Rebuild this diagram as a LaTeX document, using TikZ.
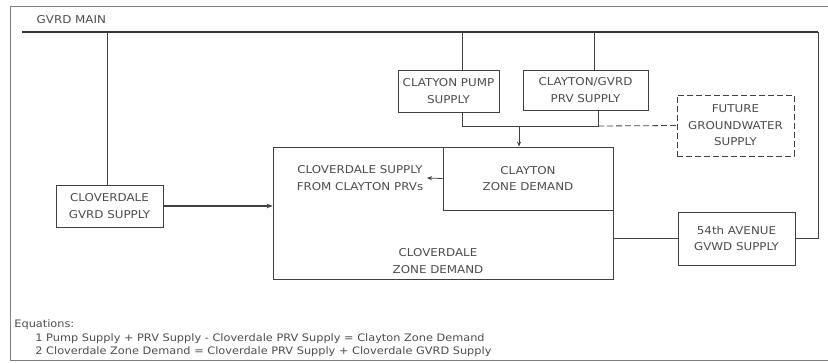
\documentclass[tikz,border=0pt]{standalone}
\usepackage{fontspec}
\newfontfamily\plotfont[FakeStretch=1.1]{DejaVu Sans}
\usetikzlibrary{arrows.meta}

\tikzset{
    boxtext/.style={font=\plotfont\fontsize{10.8}{16.5}\selectfont, text=black!70, align=center},
    unitbox/.style={boxtext, draw=black!75, inner sep=0pt},
    dashline/.style={dash pattern=on 6pt off 3pt},
    eqtext/.style={font=\plotfont\fontsize{10.3}{13}\selectfont, text=black!70, anchor=west, inner sep=0pt}
}

\begin{document}
\begin{tikzpicture}
    [x=1pt,y=-1pt, line width=0.8pt, color=black!75]
    \useasboundingbox (0,0) rectangle (828,362);
    % frame of the sheet
    \draw[black!50] (828,6) -- (10,6) -- (10,360) -- (828,360);
    % GVRD main
    \coordinate (mainL) at (22,32);
    \coordinate (mainR) at (818,32);
    \draw[line width=2.6pt, black!80] (mainL) -- (mainR);
    \node[boxtext, anchor=west] (mainlabel) at (33,20) {GVRD MAIN};
    % supply boxes
    \node[unitbox, minimum width=107, minimum height=42] (cgvrd) at (109.5,206) {CLOVERDALE\\GVRD SUPPLY};
    \node[unitbox, minimum width=101, minimum height=42] (pump) at (448.5,91) {CLATYON PUMP\\SUPPLY};
    \node[unitbox, minimum width=125, minimum height=40] (prv) at (585.5,90) {CLAYTON/GVRD\\PRV SUPPLY};
    \node[unitbox, dashline, minimum width=117, minimum height=61] (future) at (735.5,125.5) {FUTURE\\GROUNDWATER\\SUPPLY};
    \node[unitbox, minimum width=117, minimum height=53] (ave54) at (736.5,238.5) {54th AVENUE\\GVWD SUPPLY};
    % zone boxes
    \node[unitbox, minimum width=340, minimum height=132] (zone) at (443,213) {};
    \node[unitbox, minimum width=170, minimum height=63] (clayton) at (528,178.5) {CLAYTON\\ZONE DEMAND};
    \node[boxtext] (fromprv) at (360,178) {CLOVERDALE SUPPLY\\FROM CLAYTON PRVs};
    \node[boxtext] (cztext) at (438,261) {CLOVERDALE\\ZONE DEMAND};
    % connections
    \draw (cgvrd.north -| 107,0) -- (mainL -| 107,0);
    \draw ([xshift=13.5]pump.north) -- ([xshift=13.5]pump.north |- mainL);
    \draw ([xshift=8.5]prv.north) -- ([xshift=8.5]prv.north |- mainL);
    \coordinate (pumpfoot) at (462,126);
    \coordinate (prvfoot) at (598,126);
    \coordinate (join) at (519,126);
    \draw ([xshift=13.5]pump.south) -- (pumpfoot) -- (prvfoot) -- ([xshift=12.5]prv.south);
    \draw[dashline] (prvfoot) -- (future.west);
    \draw[-{Stealth[length=5pt,width=4pt]}] (join) -- (clayton.north -| join);
    \draw[-{Stealth[length=5pt,width=4pt]}] (clayton.west) -- (fromprv.east);
    \draw[line width=1.1pt, -{Stealth[length=6pt,width=4.5pt]}] (cgvrd.east) -- (cgvrd.east -| zone.west);
    \draw (zone.east |- ave54.west) -- (ave54.west);
    \draw (ave54.east) -| (mainR);
    % equations
    \node[eqtext] (eqhead) at (14,325) {Equations:};
    \node[eqtext] (eq1) at (35,339) {1 Pump Supply + PRV Supply - Cloverdale PRV Supply = Clayton Zone Demand};
    \node[eqtext] (eq2) at (35,352) {2 Cloverdale Zone Demand = Cloverdale PRV Supply + Cloverdale GVRD Supply};
\end{tikzpicture}
\end{document}
